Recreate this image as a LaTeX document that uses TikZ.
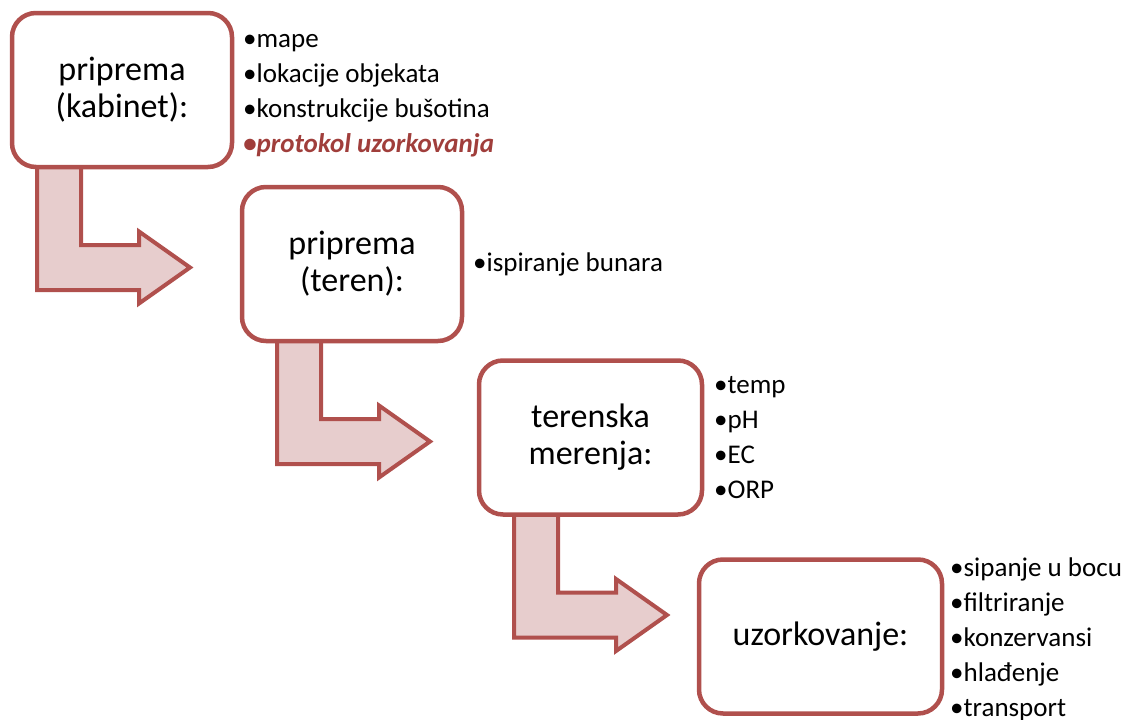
\documentclass[tikz,border=0pt]{standalone}
\usepackage{fontspec}
\setmainfont{Carlito}
\usepackage{xcolor}
\usepackage{tikz}
\usetikzlibrary{calc,backgrounds}

\definecolor{boxred}{HTML}{B0504D}
\definecolor{arrowpink}{HTML}{E7CDCD}
\definecolor{textred}{HTML}{A03E3B}

\tikzset{
  stepbox/.style={draw=boxred,line width=4.5pt,rounded corners=24pt,fill=white,
    minimum width=220pt,minimum height=154pt,align=center,inner sep=0pt,outer sep=0pt,
    font=\fontsize{34}{37}\selectfont},
  itemlist/.style={anchor=base west,align=left,inner sep=0pt,
    font=\fontsize{27}{35}\selectfont},
  bentarrow/.style={draw=boxred,fill=arrowpink,line width=4pt,line join=miter}
}

% bent arrow hanging below box #1, shaft #2 in from its left edge
\newcommand{\drawbent}[2]{%
  \draw[bentarrow] ($(#1.south west)+(#2,-3)$) -- ++(0,126) -- ++(102,0) -- ++(0,13.5)
    -- ++(51,-36) -- ++(-51,-36) -- ++(0,13.5) -- ++(-58,0) -- ++(0,-81) -- cycle;}

\begin{document}
\begin{tikzpicture}[x=1pt,y=-1pt,line join=round]
  \useasboundingbox (0,0) rectangle (1122,720);
  % steps
  \node[stepbox] (kabinet) at (122,90) {priprema\\(kabinet):};
  \node[stepbox] (teren) at (352,264) {priprema\\(teren):};
  \node[stepbox,minimum width=223pt] (merenja) at (590.5,437.5) {terenska\\merenja:};
  \node[stepbox,minimum width=243pt] (uzorak) at (820.5,636.5) {uzorkovanje:};
  % arrows between steps
  \begin{scope}[on background layer]
    \drawbent{kabinet}{25}
    \drawbent{teren}{35}
    \drawbent{merenja}{35}
  \end{scope}
  % item lists (anchored on the last line)
  \node[itemlist] (kabinetlist) at (243,152) {•mape\\•lokacije objekata\\•konstrukcije bušotina\\{\color{textred}\bfseries\itshape •protokol uzorkovanja}};
  \node[itemlist] (terenlist) at (473,271) {•ispiranje bunara};
  \node[itemlist] (merenjalist) at (714,498) {•temp\\•pH\\•EC\\•ORP};
  \node[itemlist] (uzoraklist) at (950,716) {•sipanje u bocu\\•filtriranje\\•konzervansi\\•hlađenje\\•transport};
\end{tikzpicture}
\end{document}
